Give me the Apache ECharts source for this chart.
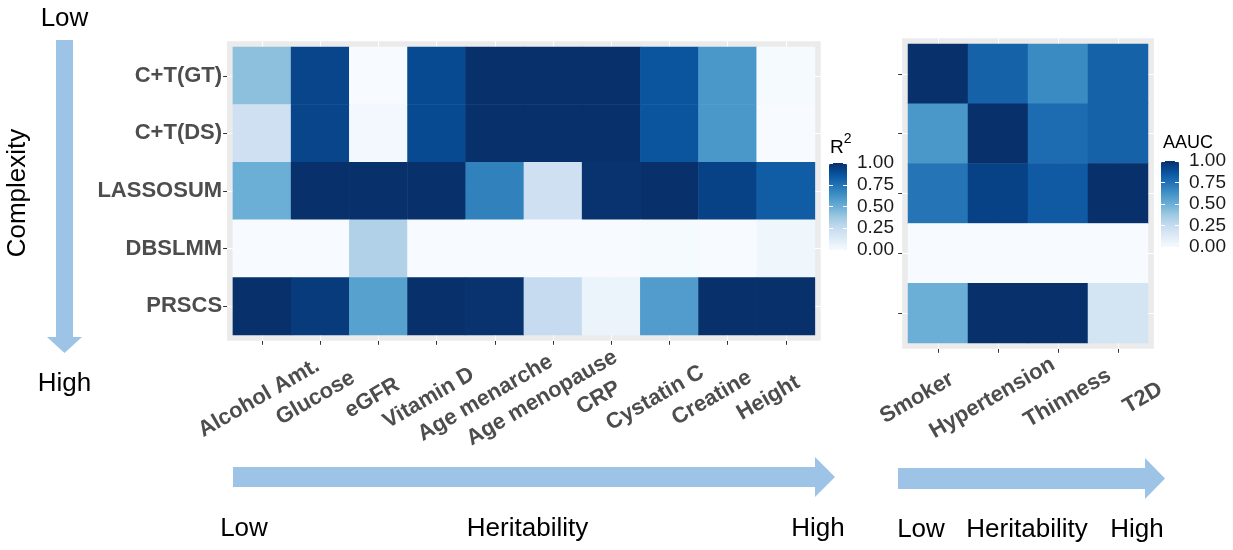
<!DOCTYPE html>
<html>
<head>
<meta charset="utf-8">
<script src="https://cdn.jsdelivr.net/npm/echarts/dist/echarts.min.js"></script>
<style>
  html, body { margin: 0; padding: 0; background: #ffffff; }
  #chart { width: 1233px; height: 550px; }
</style>
</head>
<body>
<div id="chart"></div>
<script>
// PRS methods, ordered from low to high model complexity
const methods = ['C+T(GT)', 'C+T(DS)', 'LASSOSUM', 'DBSLMM', 'PRSCS'];

// Quantitative traits (R²), ordered by heritability
const quantTraits = ['Alcohol Amt.', 'Glucose', 'eGFR', 'Vitamin D', 'Age menarche',
                     'Age menopause', 'CRP', 'Cystatin C', 'Creatine', 'Height'];
const r2CTGT     = [0.42, 0.92, 0.00, 0.90, 1.00, 1.00, 1.00, 0.86, 0.60, 0.01];
const r2CTDS     = [0.21, 0.92, 0.02, 0.90, 1.00, 1.00, 1.00, 0.86, 0.60, 0.00];
const r2LASSOSUM = [0.50, 1.00, 1.00, 1.00, 0.69, 0.21, 0.99, 1.00, 0.93, 0.83];
const r2DBSLMM   = [0.00, 0.00, 0.32, 0.00, 0.00, 0.00, 0.00, 0.01, 0.00, 0.04];
const r2PRSCS    = [1.00, 0.96, 0.56, 1.00, 0.99, 0.25, 0.06, 0.58, 1.00, 1.00];

// Binary traits (AAUC), ordered by heritability
const binaryTraits = ['Smoker', 'Hypertension', 'Thinness', 'T2D'];
const aaucCTGT     = [1.00, 0.81, 0.65, 0.81];
const aaucCTDS     = [0.60, 1.00, 0.77, 0.81];
const aaucLASSOSUM = [0.74, 0.93, 0.84, 1.00];
const aaucDBSLMM   = [0.00, 0.00, 0.00, 0.00];
const aaucPRSCS    = [0.50, 1.00, 1.00, 0.18];

// Colour bar tick labels
const legendTicks = ['0.00', '0.25', '0.50', '0.75', '1.00'];

const r2Rows = [r2CTGT, r2CTDS, r2LASSOSUM, r2DBSLMM, r2PRSCS];
const aaucRows = [aaucCTGT, aaucCTDS, aaucLASSOSUM, aaucDBSLMM, aaucPRSCS];

function toCells(rows) {
  const out = [];
  rows.forEach((row, y) => row.forEach((v, x) => out.push([x, y, v])));
  return out;
}

const BLUES = ['#F7FBFF', '#DEEBF7', '#C6DBEF', '#9ECAE1', '#6BAED6',
               '#4292C6', '#2171B5', '#08519C', '#08306B'];
const FONT = '"Liberation Sans", Arial, Helvetica, sans-serif';
const PANEL = '#EBEBEB';
const AXIS_TEXT = '#4D4D4D';
const ARROW = '#9DC3E6';
const PAD = 5.8; // panel padding around the tiles

const tickStyle = { show: true, interval: 0, alignWithLabel: true, length: 4, lineStyle: { color: '#333333', width: 1 } };
const legendTickStyle = { show: true, inside: true, length: 4, lineStyle: { color: '#ffffff', width: 1 } };
const gridLine = { show: true, interval: 0, alignWithLabel: true, lineStyle: { color: '#ffffff', width: 1 } };

// heatmap panels (tile area); the grey panel extends PAD beyond it
const leftTiles = { left: 232.9, top: 47, width: 582, height: 288 };
const rightTiles = { left: 908, top: 44, width: 240, height: 299 };

function panelGrid(t) {
  return Object.assign({ show: true, backgroundColor: PANEL, borderColor: PANEL, borderWidth: 2 * PAD }, t);
}
// grids carrying the white panel grid lines (tall for verticals, wide for horizontals)
function tallGrid(t) { return { left: t.left, width: t.width, top: t.top - PAD, height: t.height + 2 * PAD }; }
function wideGrid(t) { return { left: t.left - PAD, width: t.width + 2 * PAD, top: t.top, height: t.height }; }

function hiddenCat(gridIndex, data, dim, inverse) {
  return { type: 'category', gridIndex, data, inverse: !!inverse, z: 1,
           axisLine: { show: false }, axisTick: { show: false }, axisLabel: { show: false },
           splitLine: dim ? gridLine : { show: false } };
}
function hiddenVal(gridIndex) { return { type: 'value', gridIndex, show: false, min: 0, max: 1 }; }

const chart = echarts.init(document.getElementById('chart'), null, { renderer: 'canvas' });

const option = {
  backgroundColor: '#ffffff',
  animation: false,
  textStyle: { fontFamily: FONT },
  grid: [
    panelGrid(leftTiles),                                // 0: R² heatmap
    panelGrid(rightTiles),                               // 1: AAUC heatmap
    { left: 230.7, top: 41, width: 566, height: 301 },   // 2: R² trait labels
    { left: 879.3, top: 38, width: 301.2, height: 311 }, // 3: AAUC trait labels
    { left: 829, top: 163, width: 18, height: 87 },      // 4: R² colour bar scale
    { left: 1161, top: 161, width: 18, height: 86 },     // 5: AAUC colour bar scale
    tallGrid(leftTiles),                                 // 6
    wideGrid(leftTiles),                                 // 7
    tallGrid(rightTiles),                                // 8
    wideGrid(rightTiles)                                 // 9
  ],
  xAxis: [
    { type: 'category', gridIndex: 0, data: quantTraits, offset: PAD,
      axisLine: { show: false }, axisTick: tickStyle, axisLabel: { show: false }, splitLine: { show: false } },
    { type: 'category', gridIndex: 1, data: binaryTraits, offset: PAD,
      axisLine: { show: false }, axisTick: tickStyle, axisLabel: { show: false }, splitLine: { show: false } },
    { type: 'category', gridIndex: 2, data: quantTraits,
      axisLine: { show: false }, axisTick: { show: false }, splitLine: { show: false },
      axisLabel: { interval: 0, rotate: 30, align: 'center', verticalAlign: 'middle', margin: 56,
                   fontSize: 22, fontWeight: 'bold', color: AXIS_TEXT, fontFamily: FONT } },
    { type: 'category', gridIndex: 3, data: binaryTraits,
      axisLine: { show: false }, axisTick: { show: false }, splitLine: { show: false },
      axisLabel: { interval: 0, rotate: 30, align: 'center', verticalAlign: 'middle', margin: 49,
                   fontSize: 22, fontWeight: 'bold', color: AXIS_TEXT, fontFamily: FONT } },
    hiddenVal(4),
    hiddenVal(5),
    hiddenCat(6, quantTraits, true),
    hiddenVal(7),
    hiddenCat(8, binaryTraits, true),
    hiddenVal(9)
  ],
  yAxis: [
    { type: 'category', gridIndex: 0, data: methods, inverse: true, offset: PAD,
      axisLine: { show: false }, axisTick: tickStyle, splitLine: { show: false },
      axisLabel: { interval: 0, margin: 5, fontSize: 22, fontWeight: 'bold', color: AXIS_TEXT, fontFamily: FONT } },
    { type: 'category', gridIndex: 1, data: methods, inverse: true, offset: PAD,
      axisLine: { show: false }, axisTick: tickStyle, axisLabel: { show: false }, splitLine: { show: false } },
    hiddenVal(2),
    hiddenVal(3),
    // colour bar scales: white ticks on both edges, labels on the right
    { type: 'value', gridIndex: 4, position: 'left', min: 0, max: 1, interval: 0.25, z: 10,
      axisLine: { show: false }, axisTick: legendTickStyle, axisLabel: { show: false }, splitLine: { show: false } },
    { type: 'value', gridIndex: 4, position: 'right', min: 0, max: 1, interval: 0.25, z: 10,
      axisLine: { show: false }, axisTick: legendTickStyle, splitLine: { show: false },
      axisLabel: { margin: 10, fontSize: 19, color: '#1A1A1A', fontFamily: FONT,
                   formatter: v => legendTicks[Math.round(v * 4)] } },
    { type: 'value', gridIndex: 5, position: 'left', min: 0, max: 1, interval: 0.25, z: 10,
      axisLine: { show: false }, axisTick: legendTickStyle, axisLabel: { show: false }, splitLine: { show: false } },
    { type: 'value', gridIndex: 5, position: 'right', min: 0, max: 1, interval: 0.25, z: 10,
      axisLine: { show: false }, axisTick: legendTickStyle, splitLine: { show: false },
      axisLabel: { margin: 10, fontSize: 19, color: '#1A1A1A', fontFamily: FONT,
                   formatter: v => legendTicks[Math.round(v * 4)] } },
    hiddenVal(6),
    hiddenCat(7, methods, true, true),
    hiddenVal(8),
    hiddenCat(9, methods, true, true)
  ],
  visualMap: [
    { type: 'continuous', seriesIndex: 0, min: 0, max: 1, calculable: false, hoverLink: false,
      inRange: { color: BLUES }, left: 829, top: 163, itemWidth: 18, itemHeight: 87, padding: 0 },
    { type: 'continuous', seriesIndex: 1, min: 0, max: 1, calculable: false, hoverLink: false,
      inRange: { color: BLUES }, left: 1161, top: 161, itemWidth: 18, itemHeight: 86, padding: 0 }
  ],
  series: [
    { name: 'R2', type: 'heatmap', xAxisIndex: 0, yAxisIndex: 0, data: toCells(r2Rows), z: 3,
      itemStyle: { borderWidth: 0 }, emphasis: { disabled: true } },
    { name: 'AAUC', type: 'heatmap', xAxisIndex: 1, yAxisIndex: 1, data: toCells(aaucRows), z: 3,
      itemStyle: { borderWidth: 0 }, emphasis: { disabled: true } }
  ],
  graphic: [
    // complexity arrow (vertical)
    { type: 'polygon', shape: { points: [[56, 40], [73, 40], [73, 337], [82, 337], [64.5, 353], [47, 337], [56, 337]] },
      style: { fill: ARROW } },
    { type: 'text', x: 64.5, y: 19, style: { text: 'Low', font: '26px ' + FONT, fill: '#000', align: 'center', verticalAlign: 'middle' } },
    { type: 'text', x: 64.5, y: 384, style: { text: 'High', font: '26px ' + FONT, fill: '#000', align: 'center', verticalAlign: 'middle' } },
    { type: 'text', x: 18, y: 193, rotation: Math.PI / 2,
      style: { text: 'Complexity', font: '26px ' + FONT, fill: '#000', align: 'center', verticalAlign: 'middle' } },

    // heritability arrow under the R² panel
    { type: 'polygon', shape: { points: [[233, 467], [815, 467], [815, 457], [835, 477], [815, 497], [815, 487], [233, 487]] },
      style: { fill: ARROW } },
    { type: 'text', x: 244, y: 529, style: { text: 'Low', font: '26px ' + FONT, fill: '#000', align: 'center', verticalAlign: 'middle' } },
    { type: 'text', x: 527.5, y: 529, style: { text: 'Heritability', font: '26px ' + FONT, fill: '#000', align: 'center', verticalAlign: 'middle' } },
    { type: 'text', x: 818, y: 529, style: { text: 'High', font: '26px ' + FONT, fill: '#000', align: 'center', verticalAlign: 'middle' } },

    // heritability arrow under the AAUC panel
    { type: 'polygon', shape: { points: [[898, 468], [1145, 468], [1145, 458], [1165, 478.5], [1145, 499], [1145, 489], [898, 489]] },
      style: { fill: ARROW } },
    { type: 'text', x: 921, y: 530, style: { text: 'Low', font: '26px ' + FONT, fill: '#000', align: 'center', verticalAlign: 'middle' } },
    { type: 'text', x: 1027, y: 530, style: { text: 'Heritability', font: '26px ' + FONT, fill: '#000', align: 'center', verticalAlign: 'middle' } },
    { type: 'text', x: 1137, y: 530, style: { text: 'High', font: '26px ' + FONT, fill: '#000', align: 'center', verticalAlign: 'middle' } },

    // colour bar titles
    { type: 'text', x: 830, y: 147.5,
      style: { text: '{r|R}{s|2}', align: 'left', verticalAlign: 'middle', fill: '#000',
               rich: { r: { fontSize: 19, lineHeight: 30, fontFamily: FONT, fill: '#000' },
                       s: { fontSize: 14, lineHeight: 13, verticalAlign: 'top', fontFamily: FONT, fill: '#000' } } } },
    { type: 'text', x: 1163, y: 143, style: { text: 'AAUC', font: '18px ' + FONT, fill: '#000', align: 'left', verticalAlign: 'middle' } }
  ]
};

chart.setOption(option);
</script>
</body>
</html>
